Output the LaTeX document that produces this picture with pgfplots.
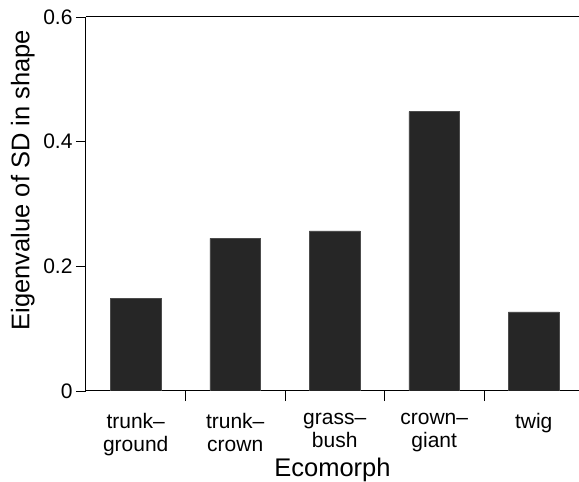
\documentclass[border=0pt]{standalone}
\usepackage{pgfplots}
\pgfplotsset{compat=1.18}
\usepackage{fontspec}
\setmainfont{Liberation Sans}
\begin{document}
\begin{tikzpicture}
\useasboundingbox (-86pt,-91pt) rectangle (493pt,391pt);
\begin{axis}[
  at={(0,0)}, anchor=south west,
  scale only axis, width=493pt, height=374pt,
  xmin=-0.5, xmax=4.455, ymin=0, ymax=0.6,
  axis x line*=bottom, axis y line*=left,
  axis line style={line width=1pt, -},
  ybar, bar width=0.51,
  xtick={0,1,2,3,4},
  xticklabels={{trunk--\\ground},{trunk--\\crown},{grass--\\bush},{crown--\\giant},{twig}},
  xticklabel style={align=center, font=\fontsize{21}{23}\selectfont, anchor=north, yshift=-9pt},
  major x tick style={draw=none},
  minor xtick={0.5,1.5,2.5,3.5},
  minor tick length=10pt,
  minor x tick style={line width=0.8pt, black},
  ytick={0,0.2,0.4,0.6},
  yticklabels={0,0.2,0.4,0.6},
  /pgf/number format/assume math mode=true,
  yticklabel style={font=\fontsize{21}{24}\selectfont},
  major tick length=10pt,
  major y tick style={line width=0.8pt, black},
  tick align=outside,
  tick pos=left,
  xlabel={Ecomorph},
  xlabel style={font=\fontsize{25.5}{28}\selectfont, at={(axis description cs:0.5,0)}, anchor=base, yshift=-85pt},
  ylabel={Eigenvalue of SD in shape},
  ylabel style={font=\fontsize{25.5}{28}\selectfont, at={(axis description cs:-0.128,0.564)}, anchor=center, rotate=0},
]
\addplot[fill=black!85, draw=black!70, line width=0.5pt] coordinates {(0,0.148) (1,0.245) (2,0.257) (3,0.448) (4,0.127)};
\end{axis}
\draw[line width=1pt] (0,374pt) -- (493pt,374pt);
\end{tikzpicture}
\end{document}
